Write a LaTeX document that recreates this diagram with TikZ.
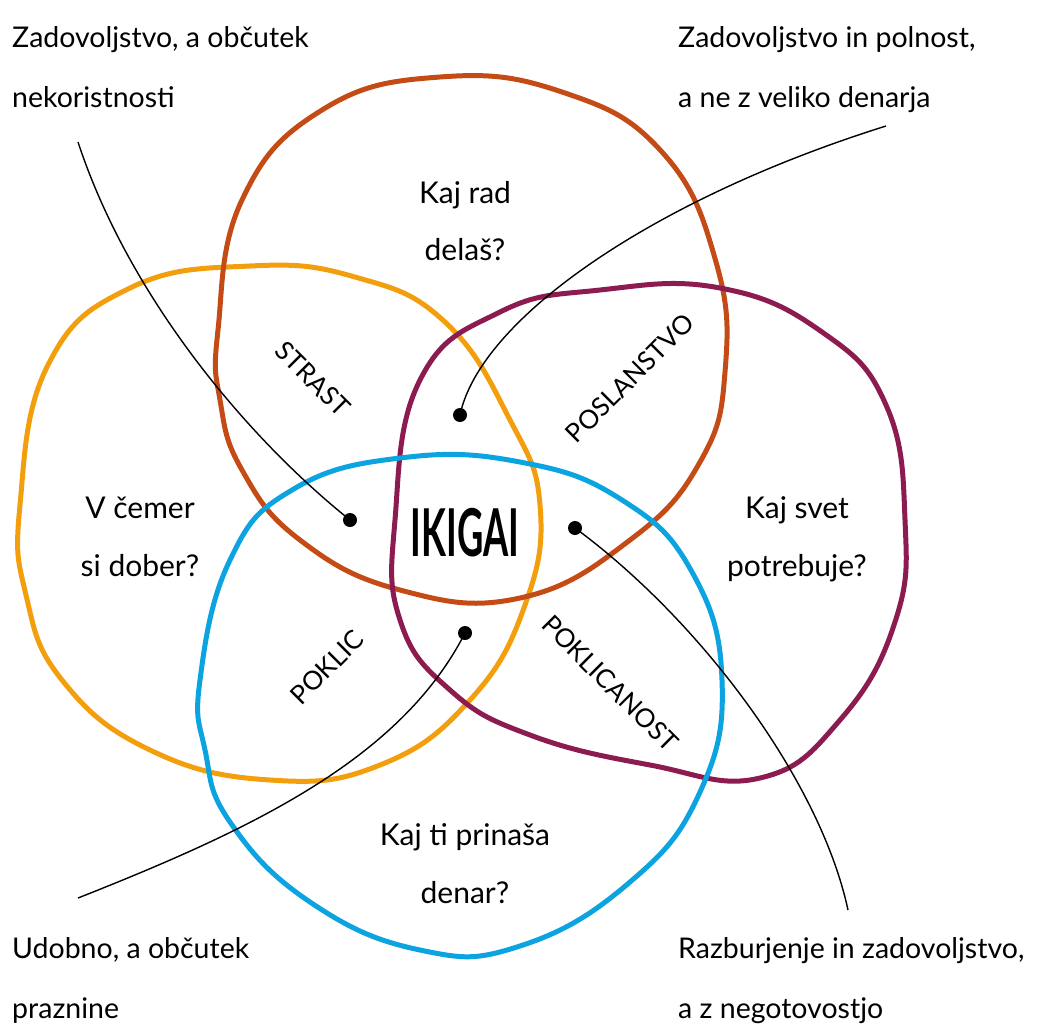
\documentclass[tikz,border=0pt]{standalone}
\usepackage{fontspec}
\setmainfont{Lato}
\usepackage{graphicx}
\definecolor{ikOrange}{HTML}{F39E0C}
\definecolor{ikRed}{HTML}{C54B16}
\definecolor{ikPurple}{HTML}{8C1C50}
\definecolor{ikBlue}{HTML}{0BA3E0}
\begin{document}
\begin{tikzpicture}[x=1pt,y=-1pt,
  blob/.style={line width=5pt, line join=round},
  note/.style={font=\fontsize{28.5}{32}\selectfont, anchor=base west, inner sep=0pt},
  question/.style={font=\fontsize{30}{34}\selectfont, anchor=base, inner sep=0pt},
  zone/.style={font=\fontsize{26}{30}\selectfont, inner sep=0pt},
  dot/.style={circle, fill=black, inner sep=0pt, minimum size=14pt},
  leader/.style={line width=1.4pt, black}]
\useasboundingbox (0,0) rectangle (1043,1031);

% the four circles of the diagram
\draw[blob, ikOrange] plot[smooth cycle, tension=0.75] coordinates {
  (20,505) (48,365) (130,288) (250,266) (355,277) (445,322) (510,420)
  (540,505) (525,605) (470,700) (380,765) (270,780) (150,750) (62,680) (26,595)};
\draw[blob, ikRed] plot[smooth cycle, tension=0.75] coordinates {
  (218,330) (242,200) (322,110) (440,77) (562,92) (662,152) (716,262)
  (725,372) (700,462) (630,540) (520,598) (400,590) (300,540) (242,470) (220,400)};
\draw[blob, ikPurple] plot[smooth cycle, tension=0.75] coordinates {
  (420,380) (500,312) (600,290) (720,288) (822,332) (886,405) (905,520)
  (895,622) (840,720) (760,778) (650,765) (530,735) (450,690) (400,620) (395,520)};
\draw[blob, ikBlue] plot[smooth cycle, tension=0.75] coordinates {
  (200,680) (230,560) (292,490) (400,458) (520,462) (622,500) (692,572)
  (722,680) (700,792) (630,882) (520,946) (420,950) (310,902) (230,822) (205,750)};

% questions inside the circles
\node[question] (q1a) at (465,203) {Kaj rad};
\node[question] (q1b) at (465,260) {delaš?};
\node[question] (q2a) at (140,518) {V čemer};
\node[question] (q2b) at (140,576) {si dober?};
\node[question] (q3a) at (797,518) {Kaj svet};
\node[question] (q3b) at (797,576) {potrebuje?};
\node[question] (q4a) at (465,845) {Kaj ti prinaša};
\node[question] (q4b) at (465,903) {denar?};

% overlap names
\node[zone, rotate=-45] (strast) at (313,379) {STRAST};
\node[zone, rotate=45] (poslanstvo) at (630,378) {POSLANSTVO};
\node[zone, rotate=45] (poklic) at (327,667) {POKLIC};
\node[zone, rotate=-45] (poklicanost) at (610,683) {POKLICANOST};

\node[font=\bfseries\fontsize{66}{70}\selectfont, inner sep=0pt] (ikigai) at (465,533) {\scalebox{0.55}[1]{IKIGAI}};

% markers
\node[dot] (d1) at (350,520) {};
\node[dot] (d2) at (460,415) {};
\node[dot] (d3) at (575,528) {};
\node[dot] (d4) at (465,633) {};

% corner notes
\node[note] (tl1) at (12,47) {Zadovoljstvo, a občutek};
\node[note] (tl2) at (12,107) {nekoristnosti};
\node[note] (tr1) at (678,47) {Zadovoljstvo in polnost,};
\node[note] (tr2) at (678,107) {a ne z veliko denarja};
\node[note] (bl1) at (12,958) {Udobno, a občutek};
\node[note] (bl2) at (12,1018) {praznine};
\node[note] (br1) at (678,958) {Razburjenje in zadovoljstvo,};
\node[note] (br2) at (678,1018) {a z negotovostjo};

% leader lines from the notes to the markers
\coordinate (e1) at (78,142);
\coordinate (e2) at (886,126);
\coordinate (e3) at (848,910);
\coordinate (e4) at (78,898);
\draw[leader] (e1) .. controls (130,300) and (250,440) .. (d1.center);
\draw[leader] (e2) .. controls (650,200) and (480,320) .. (d2.center);
\draw[leader] (d3.center) .. controls (700,620) and (820,780) .. (e3);
\draw[leader] (d4.center) .. controls (400,760) and (250,830) .. (e4);
\end{tikzpicture}
\end{document}
